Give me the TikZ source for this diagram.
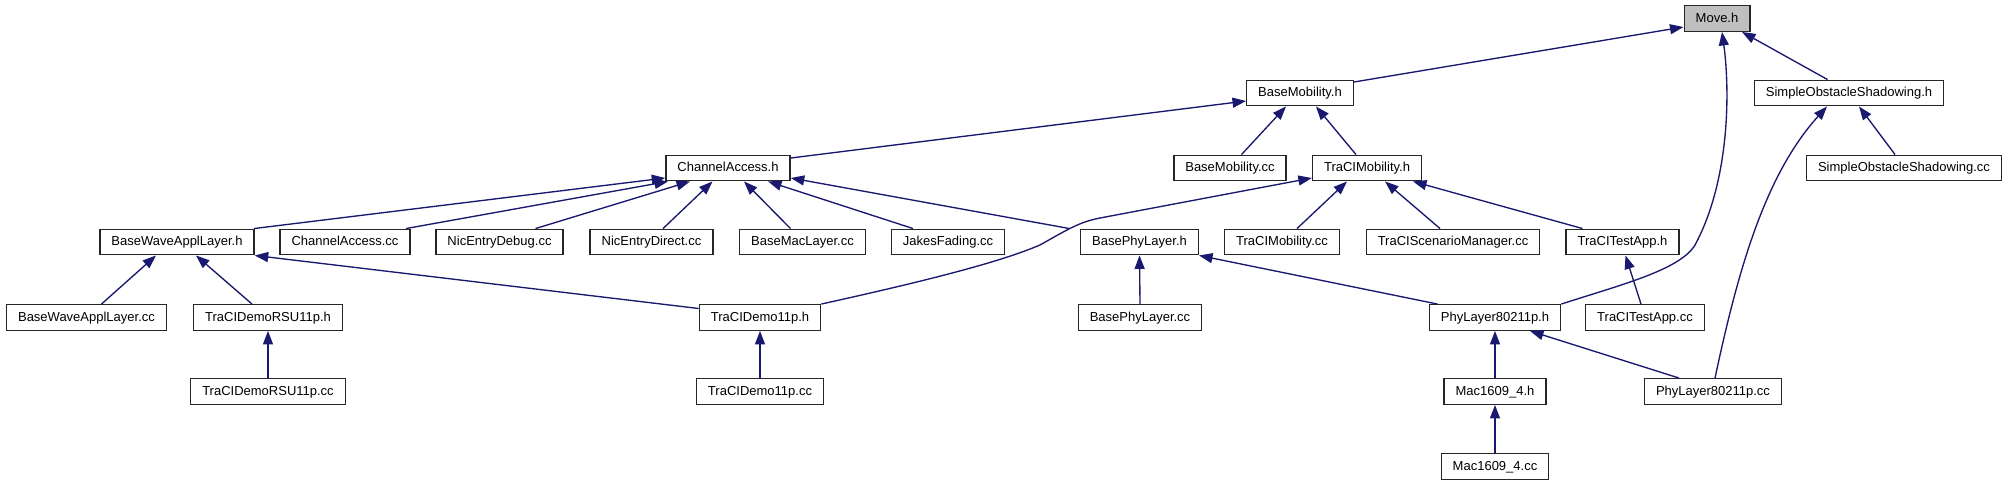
\documentclass[tikz,border=0pt]{standalone}
\usepackage{fontspec}
\setmainfont{Liberation Sans}
\usetikzlibrary{arrows.meta}
\definecolor{edgeblue}{HTML}{191970}
\begin{document}
\begin{tikzpicture}[x=1pt,y=-1pt,
 nbox/.style={draw=black!85, line width=1.4pt, fill=white, font=\fontsize{13}{15}\selectfont, inner xsep=11.5pt, inner ysep=0pt, minimum height=25.5pt, text height=9.5pt, text depth=2.5pt},
 e/.style={draw=edgeblue, line width=1.35pt, -{Triangle[length=13.5pt,width=10pt]}}]
\useasboundingbox[fill=white] (0,0) rectangle (2007,485);
% row 1
\node[nbox, fill=black!25] (move) at (1717,18.5) {Move.h};
% row 2
\node[nbox] (bmh) at (1300,93) {BaseMobility.h};
\node[nbox] (soh) at (1849,93) {SimpleObstacleShadowing.h};
% row 3
\node[nbox] (cah) at (728,168) {ChannelAccess.h};
\node[nbox] (bmcc) at (1230,168) {BaseMobility.cc};
\node[nbox] (tmh) at (1367,168) {TraCIMobility.h};
\node[nbox] (socc) at (1904,168) {SimpleObstacleShadowing.cc};
% row 4
\node[nbox] (bwah) at (177,242) {BaseWaveApplLayer.h};
\node[nbox] (cacc) at (345,242) {ChannelAccess.cc};
\node[nbox] (nedbg) at (499.5,242) {NicEntryDebug.cc};
\node[nbox] (nedir) at (651.5,242) {NicEntryDirect.cc};
\node[nbox] (bmac) at (802.5,242) {BaseMacLayer.cc};
\node[nbox] (jakes) at (948,242) {JakesFading.cc};
\node[nbox] (bph) at (1139.5,242) {BasePhyLayer.h};
\node[nbox] (tmcc) at (1282,242) {TraCIMobility.cc};
\node[nbox] (tsm) at (1453,242) {TraCIScenarioManager.cc};
\node[nbox] (ttah) at (1622.5,242) {TraCITestApp.h};
% row 5
\node[nbox] (bwacc) at (86.5,317.5) {BaseWaveApplLayer.cc};
\node[nbox] (rsuh) at (268,317.5) {TraCIDemoRSU11p.h};
\node[nbox] (demoh) at (760,317.5) {TraCIDemo11p.h};
\node[nbox] (bpcc) at (1140,317.5) {BasePhyLayer.cc};
\node[nbox] (phyh) at (1495,317.5) {PhyLayer80211p.h};
\node[nbox] (ttacc) at (1645,317.5) {TraCITestApp.cc};
% row 6
\node[nbox] (rsucc) at (268,391.5) {TraCIDemoRSU11p.cc};
\node[nbox] (democc) at (760,391.5) {TraCIDemo11p.cc};
\node[nbox] (mach) at (1495,391.5) {Mac1609\_4.h};
\node[nbox] (phycc) at (1713,391.5) {PhyLayer80211p.cc};
% row 7
\node[nbox] (maccc) at (1495,466.5) {Mac1609\_4.cc};
% edges
\draw[e] ([yshift=11pt]bmh.east) -- ([yshift=-8.5pt]move.west);
\draw[e] ([xshift=-21.5pt]soh.north) -- ([xshift=25pt]move.south);
\draw[e] ([yshift=10pt]cah.east) -- ([yshift=-8pt]bmh.west);
\draw[e] ([xshift=11.5pt]bmcc.north) -- ([xshift=-14pt]bmh.south);
\draw[e] ([xshift=-11pt]tmh.north) -- ([xshift=16pt]bmh.south);
\draw[e] ([xshift=-9pt]socc.north) -- ([xshift=10pt]soh.south);
\draw[e] ([xshift=77pt]bwah.north) -- ([yshift=-10pt]cah.west);
\draw[e] ([xshift=61pt]cacc.north) -- ([xshift=-60pt]cah.south);
\draw[e] ([xshift=36pt]nedbg.north) -- ([xshift=-38pt]cah.south);
\draw[e] ([xshift=11.5pt]nedir.north) -- ([xshift=-15.5pt]cah.south);
\draw[e] ([xshift=-12pt]bmac.north) -- ([xshift=16pt]cah.south);
\draw[e] ([xshift=-35pt]jakes.north) -- ([xshift=40pt]cah.south);
\draw[e] ([xshift=-70pt]bph.north) -- ([yshift=-10pt]cah.east);
\draw[e] ([xshift=15pt]tmcc.north) -- ([xshift=-20pt]tmh.south);
\draw[e] ([xshift=-13pt]tsm.north) -- ([xshift=18pt]tmh.south);
\draw[e] ([xshift=-40pt]ttah.north) -- ([xshift=46pt]tmh.south);
\draw[e] (demoh.north east) .. controls (930,280) and (1000,262) .. (1040,245) .. controls (1070,228) and (1080,222) .. (1100,218) -- ([yshift=-10pt]tmh.west);
\draw[e] ([xshift=15pt]bwacc.north) -- ([xshift=-21pt]bwah.south);
\draw[e] ([xshift=-16pt]rsuh.north) -- ([xshift=19pt]bwah.south);
\draw[e] ([yshift=9pt]demoh.west) -- (bwah.south east);
\draw[e] (rsucc.north) -- (rsuh.south);
\draw[e] (democc.north) -- (demoh.south);
\draw[e] (bpcc.north) -- (bph.south);
\draw[e] ([xshift=-57.5pt]phyh.north) -- (bph.south east);
\draw[e] ([xshift=-4pt]ttacc.north) -- ([xshift=3pt]ttah.south);
\draw[e] (mach.north) -- (phyh.south);
\draw[e] ([xshift=-34pt]phycc.north) -- ([xshift=35pt]phyh.south);
\draw[e] (maccc.north) -- (mach.south);
\draw[e] (phyh.north east) .. controls (1620,285) and (1680,270) .. (1695,245) .. controls (1730,180) and (1730,90) .. ([xshift=5pt]move.south);
\draw[e] ([xshift=2pt]phycc.north) .. controls (1738,270) and (1765,175) .. ([xshift=-22pt]soh.south);
\end{tikzpicture}
\end{document}
